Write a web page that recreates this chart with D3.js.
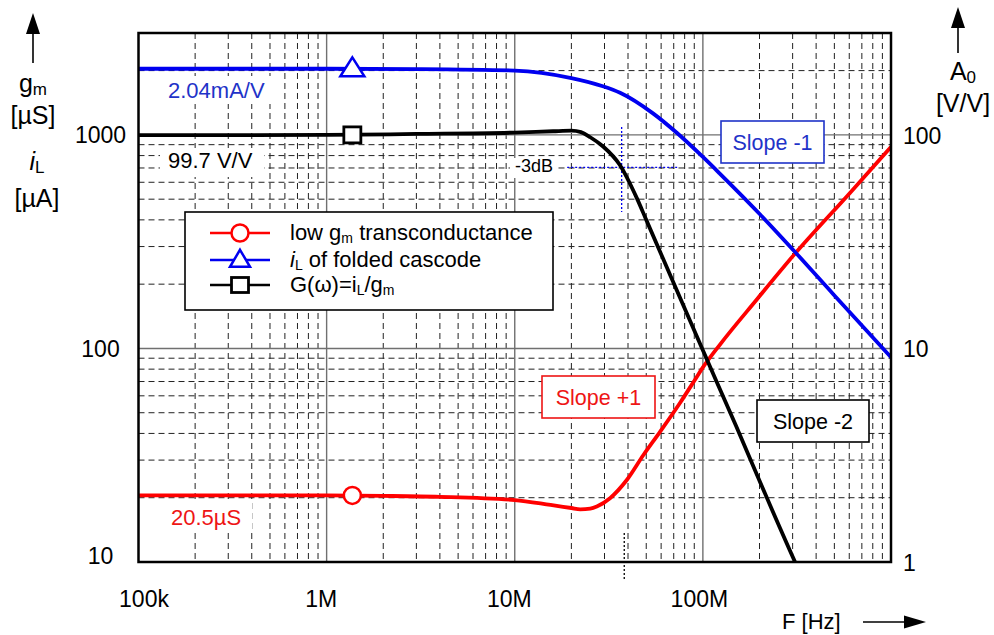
<!DOCTYPE html>
<html><head><meta charset="utf-8">
<script src="https://cdn.jsdelivr.net/npm/d3@7"></script>
<style>body{margin:0;background:#fff}svg{display:block;font-family:"Liberation Sans",Arial,sans-serif}</style>
</head><body><svg id="c" width="994" height="635"></svg>
<script>
// ---------- data ----------
const redFreq  = [1e5, 1e6, 2e6, 4e6, 1e7, 1.55e7, 2.0e7, 2.23e7, 2.52e7, 2.73e7, 3.21e7, 3.94e7, 4.83e7, 5.93e7, 7.57e7, 9.1e7, 1e8, 1.23e8, 1.94e8, 3.09e8, 6.05e8, 1e9];
const redVal   = [20.5, 20.5, 20.4, 20.2, 19.5, 18.5, 17.9, 17.65, 17.8, 18.2, 19.9, 24.2, 31.7, 40.8, 55.7, 71.6, 81.5, 104, 170, 278, 535, 879];
const blueFreq = [1e5, 1e6, 3e6, 1e7, 2e7, 2.94e7, 3.63e7, 5.43e7, 7.29e7, 1e8, 1.23e8, 2.01e8, 3.09e8, 4.92e8, 1e9];
const blueVal  = [2040, 2040, 2032, 2000, 1845, 1690, 1575, 1261, 1020, 788, 659, 425, 283, 180, 91];
const blackFreq = [1e5, 1e6, 3e6, 1e7, 1.6e7, 2e7, 2.25e7, 2.52e7, 2.95e7, 3.62e7, 4.45e7, 5e7, 7e7, 1e8, 1.5e8, 2e8, 3.09e8, 3.3e8];
const blackVal  = [997, 1000, 1010, 1025, 1040, 1046, 1030, 975, 882, 723, 507, 400, 202, 98, 43.4, 24, 10, 8.8];
const markerFreq = [1.37e6, 1.37e6, 1.37e6];
const markerVal  = [20.5, 2040, 1000];
const xTickVals = [1e5, 1e6, 1e7, 1e8];
const xTickLabels = ["100k", "1M", "10M", "100M"];
const yTickVals = [10, 100, 1000];
const yLeftLabels = ["10", "100", "1000"];
const yRightLabels = ["1", "10", "100"];
const f3dB = 3.7e7, g3dB = 705;

// ---------- layout ----------
const svg = d3.select("#c");
const L = 138.5, R = 891, T = 33, B = 562;
const x = d3.scaleLog().domain([1e5, 1e9]).range([L, R]);
const y = d3.scaleLog().domain([10, 3000]).range([B, T]);
const RED = "#ff0000", BLUE = "#0000f0", BLUET = "#1f33c8", REDT = "#ee1515";

// grid
const minorX = [], minorY = [];
[1e5, 1e6, 1e7, 1e8].forEach(d => { for (let k = 2; k <= 9; k++) minorX.push(d * k); });
[10, 100].forEach(d => { for (let k = 2; k <= 9; k++) minorY.push(d * k); });
minorY.push(2000);
const g = svg.append("g");
g.selectAll(".mx").data(minorX).enter().append("line")
  .attr("x1", d => x(d)).attr("x2", d => x(d)).attr("y1", T).attr("y2", B)
  .attr("stroke", "#222").attr("stroke-width", 1).attr("stroke-dasharray", "6,4");
g.selectAll(".my").data(minorY).enter().append("line")
  .attr("y1", d => y(d)).attr("y2", d => y(d)).attr("x1", L).attr("x2", R)
  .attr("stroke", "#222").attr("stroke-width", 1).attr("stroke-dasharray", "6,4");
g.selectAll(".Mx").data([1e6, 1e7, 1e8]).enter().append("line")
  .attr("x1", d => x(d)).attr("x2", d => x(d)).attr("y1", T).attr("y2", B)
  .attr("stroke", "#707070").attr("stroke-width", 1.4);
g.selectAll(".My").data([100, 1000]).enter().append("line")
  .attr("y1", d => y(d)).attr("y2", d => y(d)).attr("x1", L).attr("x2", R)
  .attr("stroke", "#707070").attr("stroke-width", 1.4);

// white-backed labels
function bgText(tx, ty, rx, ry, rw, rh, txt, col, size) {
  svg.append("rect").attr("x", rx).attr("y", ry).attr("width", rw).attr("height", rh).attr("fill", "#fff");
  svg.append("text").attr("x", tx).attr("y", ty).attr("fill", col).attr("font-size", size).text(txt);
}
bgText(168, 98, 162, 76, 112, 28, "2.04mA/V", BLUET, 22);
bgText(168, 168, 160, 148, 104, 29, "99.7 V/V", "#000", 22);
bgText(515, 172, 510, 158, 48, 20, "-3dB", "#000", 18);
bgText(171, 525, 164, 500, 88, 31, "20.5µS", REDT, 22);

// -3dB crosshair
svg.append("line").attr("x1", x(f3dB)).attr("x2", x(f3dB)).attr("y1", y(1090)).attr("y2", y(436))
  .attr("stroke", BLUE).attr("stroke-width", 1.3).attr("stroke-dasharray", "2,2");
svg.append("line").attr("x1", x(1.9e7)).attr("x2", x(7.3e7)).attr("y1", y(g3dB)).attr("y2", y(g3dB))
  .attr("stroke", BLUE).attr("stroke-width", 1.3).attr("stroke-dasharray", "2,2");
svg.append("line").attr("x1", x(3.82e7)).attr("x2", x(3.82e7)).attr("y1", B - 29).attr("y2", B + 19)
  .attr("stroke", "#000").attr("stroke-width", 1.3).attr("stroke-dasharray", "2,2");

// curves
svg.append("clipPath").attr("id", "clip").append("rect").attr("x", L).attr("y", T).attr("width", R - L).attr("height", B - T);
const line = d3.line().x(d => x(d[0])).y(d => y(d[1])).curve(d3.curveMonotoneX);
const cg = svg.append("g").attr("clip-path", "url(#clip)");
cg.append("path").attr("d", line(redFreq.map((f, i) => [f, redVal[i]]))).attr("fill", "none").attr("stroke", RED).attr("stroke-width", 3.8);
cg.append("path").attr("d", line(blueFreq.map((f, i) => [f, blueVal[i]]))).attr("fill", "none").attr("stroke", BLUE).attr("stroke-width", 3.8);
cg.append("path").attr("d", line(blackFreq.map((f, i) => [f, blackVal[i]]))).attr("fill", "none").attr("stroke", "#000").attr("stroke-width", 3.8);

// markers
function circ(cx, cy, r) { svg.append("circle").attr("cx", cx).attr("cy", cy).attr("r", r).attr("fill", "#fff").attr("stroke", RED).attr("stroke-width", 2.5); }
function tri(cx, cy, w, h) {
  svg.append("path").attr("d", `M${cx},${cy - h * 0.6}L${cx + w / 2},${cy + h * 0.4}L${cx - w / 2},${cy + h * 0.4}Z`)
    .attr("fill", "#fff").attr("stroke", BLUE).attr("stroke-width", 2.5);
}
function sq(cx, cy, w, h) { svg.append("rect").attr("x", cx - w / 2).attr("y", cy - h / 2).attr("width", w).attr("height", h).attr("fill", "#fff").attr("stroke", "#000").attr("stroke-width", 2.8); }
circ(x(markerFreq[0]), y(markerVal[0]), 8.5);
tri(x(markerFreq[1]), y(markerVal[1]), 24, 19);
sq(x(markerFreq[2]), y(markerVal[2]), 17, 16);

// frame
svg.append("rect").attr("x", L).attr("y", T).attr("width", R - L).attr("height", B - T)
  .attr("fill", "none").attr("stroke", "#000").attr("stroke-width", 2.5);

// slope boxes
function box(x0, y0, w, h, txt, col) {
  svg.append("rect").attr("x", x0).attr("y", y0).attr("width", w).attr("height", h).attr("fill", "#fff").attr("stroke", col).attr("stroke-width", 1.6);
  svg.append("text").attr("x", x0 + w / 2).attr("y", y0 + h / 2 + 7.5).attr("text-anchor", "middle").attr("font-size", 21.5).attr("fill", col).text(txt);
}
box(721, 121, 103, 42, "Slope -1", BLUET);
box(542, 376, 113, 42, "Slope +1", REDT);
box(757, 400, 112, 42, "Slope -2", "#000");

// legend
svg.append("rect").attr("x", 185).attr("y", 212).attr("width", 368).attr("height", 98).attr("fill", "#fff").attr("stroke", "#000").attr("stroke-width", 1.6);
const rows = [233, 260, 285];
const lcol = [RED, BLUE, "#000"];
rows.forEach((ry, i) => svg.append("line").attr("x1", 210).attr("x2", 270).attr("y1", ry).attr("y2", ry).attr("stroke", lcol[i]).attr("stroke-width", 2.6));
circ(240, rows[0], 8.5);
tri(240, rows[1], 20, 17);
sq(240, rows[2], 17, 15);
const LF = 22, LS = 14;
const lt1 = svg.append("text").attr("x", 290).attr("y", rows[0] + 7).attr("font-size", LF);
lt1.append("tspan").text("low g");
lt1.append("tspan").attr("font-size", LS).attr("dy", 3).text("m");
lt1.append("tspan").attr("dy", -3).text(" transconductance");
const lt2 = svg.append("text").attr("x", 290).attr("y", rows[1] + 7).attr("font-size", LF);
lt2.append("tspan").attr("font-style", "italic").text("i");
lt2.append("tspan").attr("font-size", LS).attr("dy", 3).text("L");
lt2.append("tspan").attr("dy", -3).text(" of folded cascode");
const lt3 = svg.append("text").attr("x", 290).attr("y", rows[2] + 7).attr("font-size", LF);
lt3.append("tspan").text("G(ω)=i");
lt3.append("tspan").attr("font-size", LS).attr("dy", 3).text("L");
lt3.append("tspan").attr("dy", -3).text("/g");
lt3.append("tspan").attr("font-size", LS).attr("dy", 3).text("m");

// axes
const xa = svg.append("g").attr("transform", `translate(0,${B})`)
  .call(d3.axisBottom(x).tickValues(xTickVals).tickFormat((d, i) => xTickLabels[i]).tickSize(0).tickPadding(29));
xa.select(".domain").remove();
const xdx = [5, -6, -6, -4];
xa.selectAll("text").attr("font-size", 23).attr("font-family", "Liberation Sans, Arial, sans-serif").attr("fill", "#000").attr("dx", (d, i) => xdx[i]);
const yl = svg.append("g").attr("transform", `translate(${L},0)`)
  .call(d3.axisLeft(y).tickValues(yTickVals).tickFormat((d, i) => yLeftLabels[i]).tickSize(0));
yl.select(".domain").remove();
yl.selectAll("text").attr("font-size", 23).attr("font-family", "Liberation Sans, Arial, sans-serif").attr("fill", "#000")
  .attr("text-anchor", "middle").attr("x", -38).attr("dy", (d, i) => i === 0 ? "0.05em" : "0.35em");
const yr = svg.append("g").attr("transform", `translate(${R},0)`)
  .call(d3.axisRight(y).tickValues(yTickVals).tickFormat((d, i) => yRightLabels[i]).tickSize(0).tickPadding(12));
yr.select(".domain").remove();
yr.selectAll("text").attr("font-size", 23).attr("font-family", "Liberation Sans, Arial, sans-serif").attr("fill", "#000").attr("dy", "0.37em");

// axis titles
function arrowUp(cx, top, headB, bottom) {
  svg.append("line").attr("x1", cx).attr("x2", cx).attr("y1", headB).attr("y2", bottom).attr("stroke", "#000").attr("stroke-width", 1.6);
  svg.append("path").attr("d", `M${cx},${top}L${cx + 7},${headB}L${cx - 7},${headB}Z`).attr("fill", "#000");
}
arrowUp(33, 13, 34, 63);
arrowUp(958, 7, 28, 53);
svg.append("line").attr("x1", 863).attr("x2", 905).attr("y1", 622).attr("y2", 622).attr("stroke", "#000").attr("stroke-width", 1.6);
svg.append("path").attr("d", "M926,622L904,615.5L904,628.5Z").attr("fill", "#000");
svg.append("text").attr("x", 782).attr("y", 629).attr("font-size", 22).text("F [Hz]");

const t1 = svg.append("text").attr("x", 33).attr("y", 92).attr("text-anchor", "middle").attr("font-size", 25);
t1.append("tspan").text("g"); t1.append("tspan").attr("font-size", 17).attr("dy", 3).text("m");
svg.append("text").attr("x", 33).attr("y", 124).attr("text-anchor", "middle").attr("font-size", 25).text("[µS]");
const t2 = svg.append("text").attr("x", 37).attr("y", 170).attr("text-anchor", "middle").attr("font-size", 25);
t2.append("tspan").attr("font-style", "italic").text("i"); t2.append("tspan").attr("font-size", 17).attr("dy", 3).text("L");
svg.append("text").attr("x", 37).attr("y", 207).attr("text-anchor", "middle").attr("font-size", 25).text("[µA]");
const t3 = svg.append("text").attr("x", 963).attr("y", 80).attr("text-anchor", "middle").attr("font-size", 25);
t3.append("tspan").text("A"); t3.append("tspan").attr("font-size", 17).attr("dy", 3).text("0");
svg.append("text").attr("x", 963).attr("y", 112).attr("text-anchor", "middle").attr("font-size", 25).text("[V/V]");
</script></body></html>
